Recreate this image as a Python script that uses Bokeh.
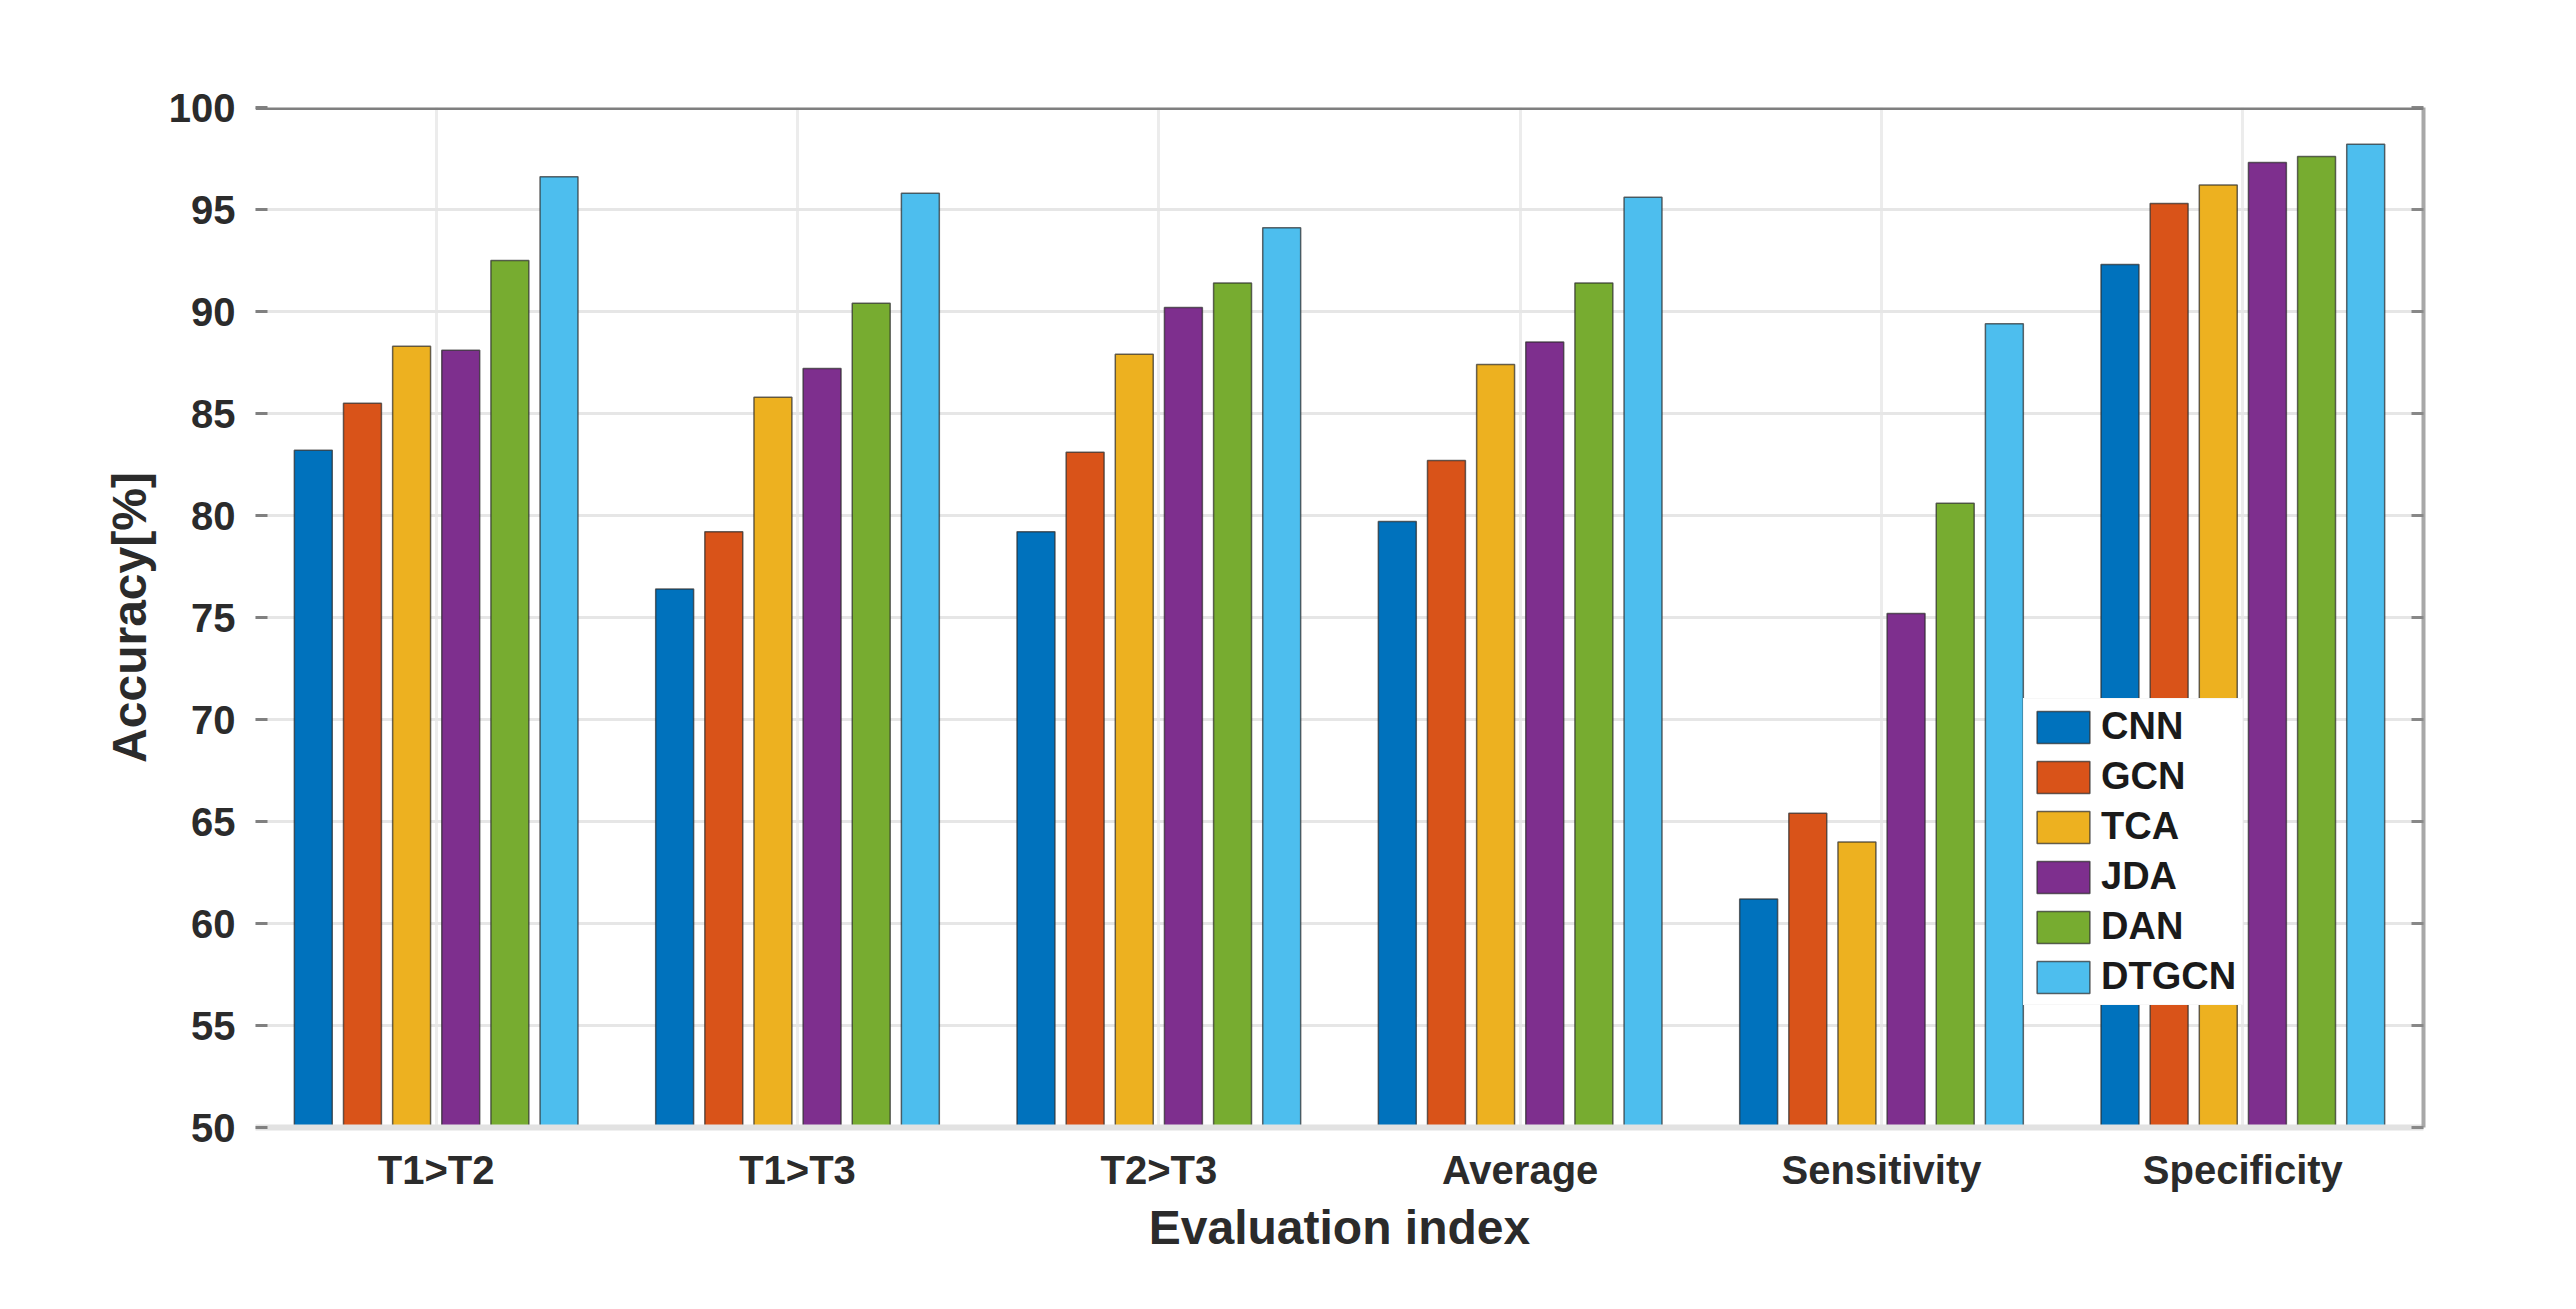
from bokeh.plotting import figure
from bokeh.models import (ColumnDataSource, FactorRange, Range1d, Legend, LegendItem,
                          LinearAxis, FixedTicker, Span)
from bokeh.transform import dodge
from bokeh.embed import file_html
from bokeh.resources import INLINE

categories = ["T1>T2", "T1>T3", "T2>T3", "Average", "Sensitivity", "Specificity"]
models = ["CNN", "GCN", "TCA", "JDA", "DAN", "DTGCN"]
cnn = [83.2, 76.4, 79.2, 79.7, 61.2, 92.3]
gcn = [85.5, 79.2, 83.1, 82.7, 65.4, 95.3]
tca = [88.3, 85.8, 87.9, 87.4, 64.0, 96.2]
jda = [88.1, 87.2, 90.2, 88.5, 75.2, 97.3]
dan = [92.5, 90.4, 91.4, 91.4, 80.6, 97.6]
dtgcn = [96.6, 95.8, 94.1, 95.6, 89.4, 98.2]
y_ticks = [50, 55, 60, 65, 70, 75, 80, 85, 90, 95, 100]
colors = ["#0072BD", "#D95319", "#EDB120", "#7E2F8E", "#77AC30", "#4DBEEE"]

series = [cnn, gcn, tca, jda, dan, dtgcn]
data = {"cat": categories}
for name, vals in zip(models, series):
    data[name] = vals
src = ColumnDataSource(data)

FONT = "Liberation Sans"
TXT = "#2b2b2b"

p = figure(x_range=FactorRange(*categories), y_range=Range1d(50, 100),
           frame_width=2168, frame_height=1020,
           min_border_left=255, min_border_right=137, min_border_top=107, min_border_bottom=163,
           output_backend="svg", toolbar_location=None, background_fill_color="white",
           border_fill_color="white")
p.outline_line_color = None

pitch = 0.136
bw = 0.105
items = []
for i, (name, col) in enumerate(zip(models, colors)):
    r = p.vbar(x=dodge("cat", (i - 2.5) * pitch, range=p.x_range), top=name, bottom=50,
               width=bw, source=src, fill_color=col, line_color="#2a2a2a", line_width=1.5,
               line_alpha=0.7)
    items.append(LegendItem(label=name, renderers=[r]))

# grids
p.ygrid.ticker = FixedTicker(ticks=y_ticks)
p.ygrid.grid_line_color = "#e6e6e6"
p.ygrid.grid_line_width = 3
p.xgrid.grid_line_color = "#ececec"
p.xgrid.grid_line_width = 3
p.grid.level = "underlay"

# left axis
ya = p.yaxis[0]
ya.ticker = FixedTicker(ticks=y_ticks)
ya.axis_label = "Accuracy[%]"
ya.axis_label_text_font = FONT
ya.axis_label_text_font_style = "bold"
ya.axis_label_text_font_size = "48px"
ya.axis_label_text_color = TXT
ya.axis_label_standoff = 10
ya.major_label_text_font = FONT
ya.major_label_text_font_style = "bold"
ya.major_label_text_font_size = "40px"
ya.major_label_text_color = TXT
ya.major_label_standoff = 20
ya.major_tick_in = 12
ya.major_tick_out = 0
ya.major_tick_line_color = "#808080"
ya.major_tick_line_width = 3
ya.minor_tick_line_color = None
ya.axis_line_color = None

# bottom axis
xa = p.xaxis[0]
xa.axis_label = "Evaluation index"
xa.axis_label_text_font = FONT
xa.axis_label_text_font_style = "bold"
xa.axis_label_text_font_size = "48px"
xa.axis_label_text_color = TXT
xa.axis_label_standoff = 6
xa.major_label_text_font = FONT
xa.major_label_text_font_style = "bold"
xa.major_label_text_font_size = "40px"
xa.major_label_text_color = TXT
xa.major_label_standoff = 20
xa.major_tick_in = 0
xa.major_tick_out = 0
xa.axis_line_color = "#e2e2e2"
xa.axis_line_width = 6

# top edge of the box
p.add_layout(Span(location=100, dimension="width", line_color="#7f7f7f", line_width=5))
# right edge of the box with inward ticks (minor ticks only, no labels)
right = LinearAxis(ticker=FixedTicker(ticks=[], minor_ticks=y_ticks),
                   minor_tick_in=12, minor_tick_out=0,
                   minor_tick_line_color="#888888", minor_tick_line_width=3,
                   major_tick_line_color=None,
                   axis_line_color="#a8a8a8", axis_line_width=4)
p.add_layout(right, "right")

legend = Legend(items=items, location=(1768, 122), orientation="vertical",
                glyph_width=66, glyph_height=40, label_height=40, spacing=7,
                padding=6, margin=0, label_standoff=5,
                label_text_font=FONT, label_text_font_style="bold",
                label_text_font_size="38px", label_text_color="#1a1a1a",
                background_fill_color="white", background_fill_alpha=1.0,
                border_line_color="#f0f0f0", border_line_width=1)
p.add_layout(legend, "center")

open("out.html", "w").write(file_html(p, INLINE))
